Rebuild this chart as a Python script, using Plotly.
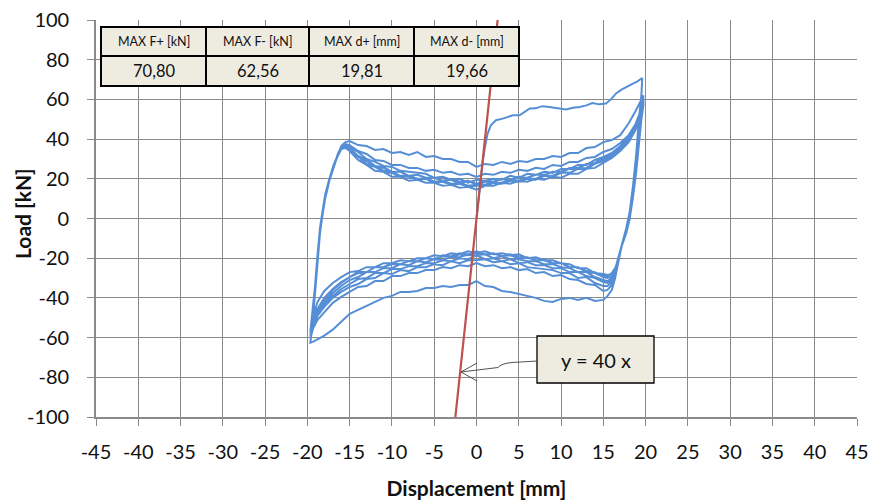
import plotly.graph_objects as go

# ---------------- DATA ----------------
# virgin loading branch
virgin_d = [0.0, 0.25, 0.5, 0.75, 1.0, 1.3, 1.7, 2.3, 3.1, 3.7, 4.3, 5.1, 5.7, 6.3, 7.0, 7.8,
            8.6, 9.5, 10.6, 11.4, 12.2, 13.0, 13.7, 14.5, 15.3, 15.9, 16.5, 17.2, 17.8, 18.5, 19.0, 19.6]
virgin_f = [0.0, 10, 20, 29, 36, 42.5, 47, 49.5, 50.3, 51, 52, 52, 53.5, 55.4, 55.5, 56.6,
            56.2, 55.5, 54.9, 55.8, 56.2, 57, 58.2, 57.5, 57.9, 60, 63, 65, 66.5, 68, 69, 70.8]

# displacement stations of the reloading (left -> right) branches [mm]
up_d = [-19.65, -19.4, -19.1, -18.8, -18.5, -18.2, -17.9, -17.4, -16.9, -16.4, -16.0, -15.5,
        -15, -14, -13, -12, -11, -10, -9, -8, -7, -6, -5, -4,
        -3, -2, -1, 0, 1, 2, 3, 4, 5, 6, 7, 8,
        9, 10, 11, 12, 13, 14, 15, 16, 17, 18, 18.8, 19.3, 19.75]

# displacement stations of the unloading (right -> left) branches [mm]
dn_d = [19.5, 19.2, 18.9, 18.5, 18.1, 17.7, 17.2, 16.8, 16.4, 16.0, 15.5,
        15, 14, 13, 12, 11, 10, 9, 8, 7, 6, 5, 4,
        3, 2, 1, 0, -1, -2, -3, -4, -5, -6, -7, -8,
        -9, -10, -11, -12, -13, -14, -15, -16, -17, -18, -18.8, -19.3, -19.65]

# load values [kN], one list per half cycle
dn_f1 = [62, 50, 33, 16, 3, -5, -13, -22, -30, -36, -39,
         -41, -41.5, -40, -41, -40, -40.5, -42, -41.5, -40, -39, -38, -37,
         -36.5, -34.5, -34, -31.5, -33.5, -33.5, -34.5, -34, -35, -35, -36.5, -37,
         -37, -39, -40, -42, -44, -46, -48, -52, -56, -59, -61, -62, -62.56]
up_f1 = [-62.56, -53, -38, -21, -7, 2, 10, 19, 26, 32, 36.5, 38.5,
         39, 37, 36.5, 34.5, 35, 33, 33.5, 32, 33.5, 31, 31.5, 30,
         30, 28.5, 28.5, 26, 27.5, 27, 28.5, 27.5, 29, 28.5, 30, 30,
         31.5, 31, 33, 33, 35.5, 36, 38.5, 39.5, 42, 48, 54, 58.5, 62]
dn_f2 = [53, 40, 26, 12, 1, -6, -13, -21, -28, -33.5, -36,
         -36.5, -33.5, -33, -31, -30.5, -28.5, -29, -27, -27.5, -25.5, -26, -24.5,
         -25, -23.5, -24, -22.5, -24, -23.5, -25, -24.5, -26, -26, -27.5, -27.5,
         -29, -29, -31.5, -31.5, -34, -34.5, -37, -39.5, -42.5, -47, -51, -55, -60.5]
up_f2 = [-60.5, -51, -37, -20, -6.5, 2.5, 10.5, 19, 26, 32, 36, 37.5,
         37, 34, 32.5, 29.5, 29, 27, 27, 25.5, 25.5, 24, 24.5, 23,
         23.5, 22, 22.5, 21, 22.5, 22, 23.5, 23, 24.5, 24, 25.5, 25,
         27, 26.5, 28.5, 28.5, 30.5, 31, 33.5, 35, 38, 42, 47.5, 53, 60]
dn_f3 = [51, 38, 25, 11, 0, -7, -13.5, -21, -27.5, -32, -34,
         -34, -32.5, -29.5, -30, -27.5, -27.5, -26, -25.5, -25, -24.5, -22.5, -23,
         -21.5, -22, -20.5, -21, -21, -22.5, -21.5, -23.5, -23, -24.5, -24.5, -26.5,
         -26, -28, -27.5, -30, -30.5, -33, -34.5, -37, -40, -44.5, -49, -54, -59.5]
up_f3 = [-59.5, -50, -36, -19, -6, 3, 11, 19.5, 26.5, 32.5, 36, 37,
         36, 33.5, 30, 28.5, 26.5, 26, 24, 23.5, 23, 22.5, 20.5, 21,
         19.5, 20, 18, 19.5, 19, 20, 19.5, 21.5, 20.5, 22.5, 22, 23.5,
         23, 25, 25, 27, 27, 29.5, 31, 33, 36.5, 41, 46.5, 52, 59]
dn_f4 = [52, 39, 25.5, 11.5, 0.5, -6.5, -13, -20.5, -27, -31, -32.5,
         -32, -30, -29, -27, -27, -25, -25, -23.5, -23.5, -22, -22.5, -20.5,
         -21.5, -20, -20.5, -18.5, -20.5, -20, -21.5, -21, -22.5, -22.5, -24, -24,
         -25.5, -25.5, -27.5, -27.5, -30, -30.5, -33, -35.5, -39, -43, -48, -53, -59]
up_f4 = [-59, -49.5, -35.5, -19, -5.5, 3, 11, 19.5, 26.5, 32, 35.5, 36.5,
         35.5, 31.5, 29.5, 26.5, 26, 23.5, 23.5, 21.5, 22, 20.5, 20.5, 19,
         19.5, 17.5, 19, 17, 18.5, 18.5, 20, 19, 21, 20.5, 22, 22,
         23.5, 23.5, 25, 25, 27.5, 28, 30.5, 32.5, 36, 40.5, 46, 52, 58.5]
dn_f5 = [51.5, 38.5, 25, 11, 0, -7, -13, -20.5, -27, -30, -31.5,
         -31, -29.5, -27, -27, -25, -24.5, -23, -23, -21.5, -21.5, -20.5, -20.5,
         -19, -20, -18, -18.5, -18, -19.5, -19, -21, -20.5, -22, -21.5, -23.5,
         -23, -25, -25, -27, -27, -29.5, -31, -34, -37.5, -42, -47, -52.5, -58.5]
up_f5 = [-58.5, -49, -35, -18.5, -5.5, 3.5, 11, 19.5, 26.5, 32, 35.5, 36,
         35, 31.5, 27, 26, 23.5, 23, 21, 21, 19.5, 20, 18, 18.5,
         17, 17.5, 16, 16.5, 16.5, 18, 17.5, 19, 18.5, 20, 19.5, 21.5,
         21, 23, 23, 25, 25, 27.5, 29, 31.5, 35, 39.5, 45, 51.5, 58]
dn_f6 = [51, 38, 24.5, 11, 0, -7, -13, -20, -26, -29, -30,
         -29.5, -27.5, -27, -24.5, -24.5, -22.5, -22.5, -21, -21, -19.5, -20, -18.5,
         -19, -17.5, -18, -16.5, -18, -17.5, -19, -18.5, -20.5, -20, -21.5, -21.5,
         -23, -22.5, -24.5, -24.5, -27, -27, -29.5, -32.5, -36, -40.5, -46, -52, -58]
up_f6 = [-58, -48.5, -35, -18.5, -5, 3.5, 11.5, 19.5, 26.5, 31.5, 35, 35.5,
         34, 29.5, 27, 24, 23.5, 21, 21, 19, 19.5, 18, 18, 16.5,
         17, 15.5, 16, 14.5, 16.5, 16.5, 18, 17.5, 19, 18.5, 20, 19.5,
         21, 20.5, 22.5, 22.5, 25, 25.5, 28, 30.5, 34, 38.5, 44.5, 51, 57.5]
dn_f7 = [50.5, 37.5, 24, 10.5, -0.5, -7, -13, -20, -25.5, -28, -28.5,
         -28, -27.5, -25, -25, -23, -22.5, -21, -21, -19.5, -20, -18, -18.5,
         -17.5, -18, -16.5, -17.5, -16.5, -18, -17.5, -19, -18.5, -20, -20, -21.5,
         -21, -22.5, -22.5, -24.5, -24.5, -26.5, -27, -29.5, -32.5, -36.5, -42, -49, -57.5]
up_f7 = [-57.5, -48, -34.5, -18, -5, 4, 11.5, 20, 26.5, 31.5, 35, 35.5,
         34.5, 31.5, 27.5, 26.5, 24, 23.5, 21.5, 21.5, 20, 20.5, 18.5, 19,
         17.5, 18, 16.5, 17, 17, 18.5, 18, 19.5, 19, 20.5, 20, 22,
         21.5, 23.5, 23, 25, 25.5, 28, 29.5, 32, 35.5, 40, 45.5, 51.5, 57.5]
dn_f8 = [50, 37, 24, 10.5, -0.5, -7.5, -13.5, -20, -25, -27.5, -29,
         -29, -27, -26.5, -24.5, -24.5, -22.5, -22.5, -20.5, -21, -19.5, -19.5, -18,
         -19, -17.5, -18, -17, -18.5, -18, -19.5, -19, -20.5, -20, -21.5, -21.5,
         -23, -23, -24.5, -24.5, -27, -27.5, -29.5, -32, -35.5, -40, -45.5, -51.5, -57]
up_f8 = [-57, -47.5, -34, -18, -4.5, 4, 12, 20, 27, 32, 35, 36,
         35, 31, 29, 26, 25.5, 23.5, 23.5, 21.5, 22, 20.5, 20.5, 19,
         20, 18.5, 19, 17.5, 19, 18.5, 20, 19.5, 21, 20.5, 22, 22,
         23.5, 23.5, 25.5, 25.5, 27.5, 28, 30.5, 33, 36.5, 41, 46.5, 52.5, 58]

dn_loads = [dn_f1, dn_f2, dn_f3, dn_f4, dn_f5, dn_f6, dn_f7, dn_f8]
up_loads = [up_f1, up_f2, up_f3, up_f4, up_f5, up_f6, up_f7, up_f8]

# trend line y = 40 x
trend_slope = 40
trend_d = [-2.5, 2.5]

# summary table
table_headers = ["MAX F+ [kN]", "MAX F- [kN]", "MAX d+ [mm]", "MAX d- [mm]"]
table_values = ["70,80", "62,56", "19,81", "19,66"]

x_tick_vals = [-45, -40, -35, -30, -25, -20, -15, -10, -5, 0, 5, 10, 15, 20, 25, 30, 35, 40, 45]
x_tick_text = ["-45", "-40", "-35", "-30", "-25", "-20", "-15", "-10", "-5", "0", "5",
               "10", "15", "20", "25", "30", "35", "40", "45"]
y_tick_vals = [-100, -80, -60, -40, -20, 0, 20, 40, 60, 80, 100]
y_tick_text = ["-100", "-80", "-60", "-40", "-20", "0", "20", "40", "60", "80", "100"]

# ---------------- assemble series ----------------
disp = list(virgin_d)
load = list(virgin_f)
for dn_f, up_f in zip(dn_loads, up_loads):
    assert len(dn_f) == len(dn_d) and len(up_f) == len(up_d)
    disp += dn_d + up_d
    load += dn_f + up_f

trend_f = [trend_slope * d for d in trend_d]

# ---------------- figure ----------------
W, H = 874, 504
PL, PR, PT, PB = 96, 857, 20, 417
FONT = "Lato"


def px(x):
    return (x - PL) / (PR - PL)


def py(y):
    return (PB - y) / (PB - PT)


fig = go.Figure()
fig.add_trace(go.Scatter(x=disp, y=load, mode="lines",
                         line=dict(color="#558ED5", width=2), showlegend=False,
                         hoverinfo="skip"))
fig.add_trace(go.Scatter(x=trend_d, y=trend_f, mode="lines",
                         line=dict(color="#C0504D", width=2.2), showlegend=False,
                         hoverinfo="skip"))

shapes = []
annotations = []

# table
cols_px = [101, 206, 309, 414, 519]
rows_px = [27, 56, 86]
for r in range(2):
    for c in range(4):
        shapes.append(dict(type="rect", xref="paper", yref="paper",
                           x0=px(cols_px[c]), x1=px(cols_px[c + 1]),
                           y0=py(rows_px[r]), y1=py(rows_px[r + 1]),
                           fillcolor="#EEECE1", line=dict(color="black", width=2),
                           layer="above"))
        txt = table_headers[c] if r == 0 else table_values[c]
        annotations.append(dict(xref="paper", yref="paper",
                                x=px((cols_px[c] + cols_px[c + 1]) / 2),
                                y=py((rows_px[r] + rows_px[r + 1]) / 2),
                                text=txt, showarrow=False,
                                font=dict(family=FONT, size=12.5 if r == 0 else 16.5, color="#111"),
                                xanchor="center", yanchor="middle"))

# callout box
shapes.append(dict(type="rect", xref="paper", yref="paper",
                   x0=px(537), x1=px(654), y0=py(336), y1=py(383),
                   fillcolor="#EEECE1", line=dict(color="black", width=1.3), layer="above"))
annotations.append(dict(xref="paper", yref="paper", x=px(595.5), y=py(359.5),
                        text="y = 40 x", showarrow=False,
                        font=dict(family=FONT, size=20, color="#111"),
                        xanchor="center", yanchor="middle"))
# arrow
arrow_path = (f"M {px(537)},{py(361)} L {px(512)},{py(362.5)} Q {px(501)},{py(363.5)} "
              f"{px(498)},{py(367.5)} L {px(461)},{py(372)}")
shapes.append(dict(type="path", xref="paper", yref="paper", path=arrow_path,
                   line=dict(color="#404040", width=0.9), layer="above"))
head_path = f"M {px(477)},{py(363)} L {px(461)},{py(372)} L {px(477)},{py(381)}"
shapes.append(dict(type="path", xref="paper", yref="paper", path=head_path,
                   line=dict(color="#404040", width=0.9), layer="above"))

# y axis title
annotations.append(dict(xref="paper", yref="paper", x=px(22), y=py(214),
                        text="<b>Load [kN]</b>", showarrow=False, textangle=-90,
                        font=dict(family=FONT, size=21, color="#111"),
                        xanchor="center", yanchor="middle"))

axis_common = dict(showgrid=True, gridcolor="#8A8A8A", gridwidth=1.4,
                   showline=True, linecolor="#8A8A8A", linewidth=1.6,
                   ticks="outside", ticklen=7, tickcolor="#8A8A8A", tickwidth=1.4,
                   zeroline=False, automargin=False,
                   tickfont=dict(family=FONT, size=20, color="#111"))

fig.update_layout(
    width=W, height=H,
    margin=dict(l=PL, r=W - PR, t=PT, b=H - PB, pad=0),
    paper_bgcolor="white", plot_bgcolor="white",
    xaxis=dict(range=[-45, 45], tickvals=x_tick_vals, ticktext=x_tick_text,
               ticklabelstandoff=9,
               title=dict(text="<b>Displacement [mm]</b>", standoff=20,
                          font=dict(family=FONT, size=21, color="#111")),
               **axis_common),
    yaxis=dict(range=[-100, 100], tickvals=y_tick_vals, ticktext=y_tick_text,
               ticklabelstandoff=14,
               **axis_common),
    shapes=shapes, annotations=annotations,
)

fig.write_html("out.html")
